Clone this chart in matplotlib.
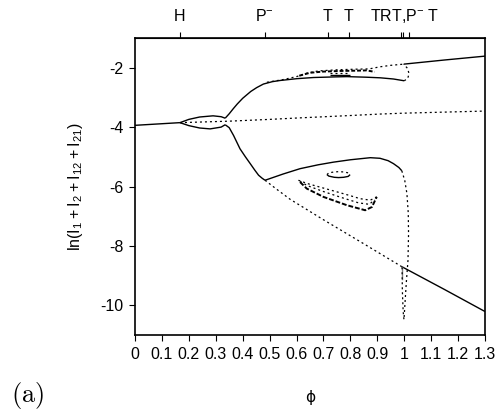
import numpy as np
import matplotlib
matplotlib.use('Agg')
import matplotlib.pyplot as plt

plt.rcParams['font.family'] = ['Liberation Sans', 'DejaVu Sans']
plt.rcParams['axes.unicode_minus'] = False

# steady state branch
ss_stable_x = [0, 0.167]
ss_stable_y = [-3.94, -3.85]
ss_unstable_x = [0.167, 0.35, 0.5, 0.61, 0.8, 0.911, 1.0, 1.3]
ss_unstable_y = [-3.85, -3.80, -3.74, -3.69, -3.61, -3.56, -3.53, -3.46]

# hopf bubble
hopf_up_x = [0.167, 0.2, 0.24, 0.29, 0.32, 0.335]
hopf_up_y = [-3.85, -3.74, -3.66, -3.62, -3.65, -3.70]
hopf_lo_x = [0.167, 0.2, 0.24, 0.279, 0.32, 0.335]
hopf_lo_y = [-3.85, -3.95, -4.03, -4.06, -4.0, -3.92]

# maximum of periodic orbit
max_x = [0.335, 0.35, 0.365, 0.38, 0.40, 0.43, 0.452, 0.477, 0.51, 0.539, 0.60, 0.663,
         0.74, 0.787, 0.86, 0.911, 0.96, 1.0]
max_y = [-3.70, -3.55, -3.38, -3.22, -3.03, -2.80, -2.67, -2.55, -2.47, -2.43, -2.37, -2.33,
         -2.31, -2.30, -2.32, -2.34, -2.38, -2.44]
hook_x = [1.0, 1.013, 1.018, 1.012, 0.998]
hook_y = [-2.44, -2.36, -2.2, -2.02, -1.88]
upper_x = [0.998, 1.15, 1.3]
upper_y = [-1.88, -1.74, -1.61]
torus_x = [0.49, 0.55, 0.60, 0.64, 0.68, 0.75, 0.82, 0.87, 0.91, 0.95, 0.998]
torus_y = [-2.49, -2.40, -2.30, -2.18, -2.11, -2.07, -2.05, -2.04, -1.97, -1.92, -1.88]
wig_x = [0.61, 0.65, 0.70, 0.76, 0.82, 0.86, 0.89]
wig_y = [-2.27, -2.17, -2.13, -2.11, -2.10, -2.09, -2.14]
inner_x = [0.725, 0.80]
inner_dot_y = [-2.18, -2.18]
inner_sol_y = [-2.23, -2.23]

# minimum of periodic orbit
min_a_x = [0.335, 0.35, 0.366, 0.39, 0.41, 0.428, 0.445, 0.459, 0.472, 0.483]
min_a_y = [-3.92, -4.02, -4.28, -4.73, -5.0, -5.23, -5.45, -5.62, -5.72, -5.79]
min_b_x = [0.483, 0.55, 0.613, 0.68, 0.737, 0.80, 0.874, 0.91, 0.94, 0.96, 0.98, 0.991]
min_b_y = [-5.79, -5.58, -5.40, -5.27, -5.18, -5.10, -5.03, -5.05, -5.13, -5.23, -5.36, -5.47]
drop_x = [0.991, 1.002, 1.01, 1.015, 1.016, 1.014, 1.008, 1.003, 0.999]
drop_y = [-5.47, -5.8, -6.24, -6.9, -7.6, -8.48, -9.2, -9.9, -10.49]

# lower steady state branch
low_uns_x = [0.483, 0.52, 0.576, 0.7, 0.85, 0.991]
low_uns_y = [-5.79, -6.05, -6.43, -7.12, -7.93, -8.70]
low_st_x = [0.991, 1.15, 1.3]
low_st_y = [-8.70, -9.47, -10.21]
vert_sol_x = [0.993, 0.993]
vert_sol_y = [-8.72, -9.1]
vert_dot_x = [0.992, 0.993, 0.996, 0.999]
vert_dot_y = [-8.72, -9.5, -10.2, -10.49]

# isola and crescent
iso_x = [0.713, 0.72, 0.74, 0.756, 0.775, 0.792, 0.799]
iso_up_y = [-5.60, -5.54, -5.51, -5.50, -5.51, -5.54, -5.60]
iso_lo_y = [-5.60, -5.65, -5.69, -5.70, -5.69, -5.66, -5.60]
cr_up_x = [0.607, 0.64, 0.675, 0.75, 0.80, 0.836, 0.874, 0.898]
cr_up_y = [-5.79, -5.90, -5.99, -6.18, -6.31, -6.41, -6.46, -6.35]
cr_mid_x = [0.613, 0.64, 0.70, 0.77, 0.83, 0.87, 0.89]
cr_mid_y = [-5.83, -5.97, -6.17, -6.38, -6.55, -6.60, -6.45]
cr_lo_x = [0.613, 0.638, 0.70, 0.787, 0.855, 0.88, 0.898]
cr_lo_y = [-5.85, -6.07, -6.35, -6.63, -6.80, -6.69, -6.35]

xticks = [0, 0.1, 0.2, 0.3, 0.4, 0.5, 0.6, 0.7, 0.8, 0.9, 1.0, 1.1, 1.2, 1.3]
xticklabels = ['0', '0.1', '0.2', '0.3', '0.4', '0.5', '0.6', '0.7', '0.8', '0.9',
               '1', '1.1', '1.2', '1.3']
yticks = [-10, -8, -6, -4, -2]
yticklabels = ['-10', '-8', '-6', '-4', '-2']
top_ticks = [0.167, 0.481, 0.715, 0.794, 0.988, 0.997, 1.017]
top_labels = ['H', r'P$^{\mathregular{-}}$', 'T', 'T', '', '', '']
# the three crowded labels near phi = 1 run together, as in the original
cluster_label = r'TRT,P$^{\mathregular{-}}$ T'
cluster_left = 0.872

fig = plt.figure(figsize=(5, 4.15), dpi=100)
ax = fig.add_axes([0.27, 0.1928, 0.70, 0.7156])

sol = dict(color='black', lw=1.0, solid_capstyle='butt')
dot = dict(color='black', lw=0.9, linestyle=(0, (1.6, 2.4)))

ax.plot(ss_stable_x, ss_stable_y, **sol)
ax.plot(ss_unstable_x, ss_unstable_y, **dot)
ax.plot(hopf_up_x, hopf_up_y, **sol)
ax.plot(hopf_lo_x, hopf_lo_y, **sol)
ax.plot(max_x, max_y, **sol)
ax.plot(hook_x, hook_y, **dot)
ax.plot(upper_x, upper_y, **sol)
ax.plot(torus_x, torus_y, **dot)
ax.plot(wig_x, wig_y, color='black', lw=1.4, linestyle=(0, (2, 1)))
ax.plot(inner_x, inner_dot_y, **dot)
ax.plot(inner_x, inner_sol_y, **sol)
ax.plot(min_a_x, min_a_y, **sol)
ax.plot(min_b_x, min_b_y, **sol)
ax.plot(drop_x, drop_y, **dot)
ax.plot(low_uns_x, low_uns_y, **dot)
ax.plot(low_st_x, low_st_y, **sol)
ax.plot(vert_sol_x, vert_sol_y, color='gray', lw=1.0)
ax.plot(vert_dot_x, vert_dot_y, **dot)
ax.plot(iso_x, iso_up_y, **dot)
ax.plot(iso_x, iso_lo_y, **sol)
ax.plot(cr_up_x, cr_up_y, **dot)
ax.plot(cr_mid_x, cr_mid_y, **dot)
ax.plot(cr_lo_x, cr_lo_y, color='black', lw=1.4, linestyle=(0, (2.5, 1)))

ax.set_xlim(0, 1.3)
ax.set_ylim(-11, -1)
ax.set_xticks(xticks, xticklabels)
ax.set_yticks(yticks, yticklabels)
ax.tick_params(direction='out', length=4.3, width=0.8, labelsize=11.5, pad=4)
for s in ax.spines.values():
    s.set_linewidth(1.2)

sec = ax.secondary_xaxis('top')
sec.set_xticks(top_ticks, top_labels)
sec.tick_params(direction='out', length=4.3, width=0.8, labelsize=11.5, pad=6)
ax.text(cluster_left, 1.074, cluster_label, transform=ax.get_xaxis_transform(),
        ha='left', va='center', fontsize=11.5)

ax.set_xlabel('ϕ', fontsize=11, family=['DejaVu Sans'])
ax.xaxis.set_label_coords(0.5, -0.212)
ax.xaxis.label.set_va('center')
ax.set_ylabel(r'$\mathregular{ln(I_1+I_2+I_{12}+I_{21})}$', fontsize=11.5)
ax.yaxis.set_label_coords(-0.171, 0.5)
ax.yaxis.label.set_va('center')

fig.text(0.056, 0.048, r'$\mathrm{(a)}$', fontsize=19, math_fontfamily='cm',
         ha='center', va='center')

fig.savefig('out.png', dpi=100)
